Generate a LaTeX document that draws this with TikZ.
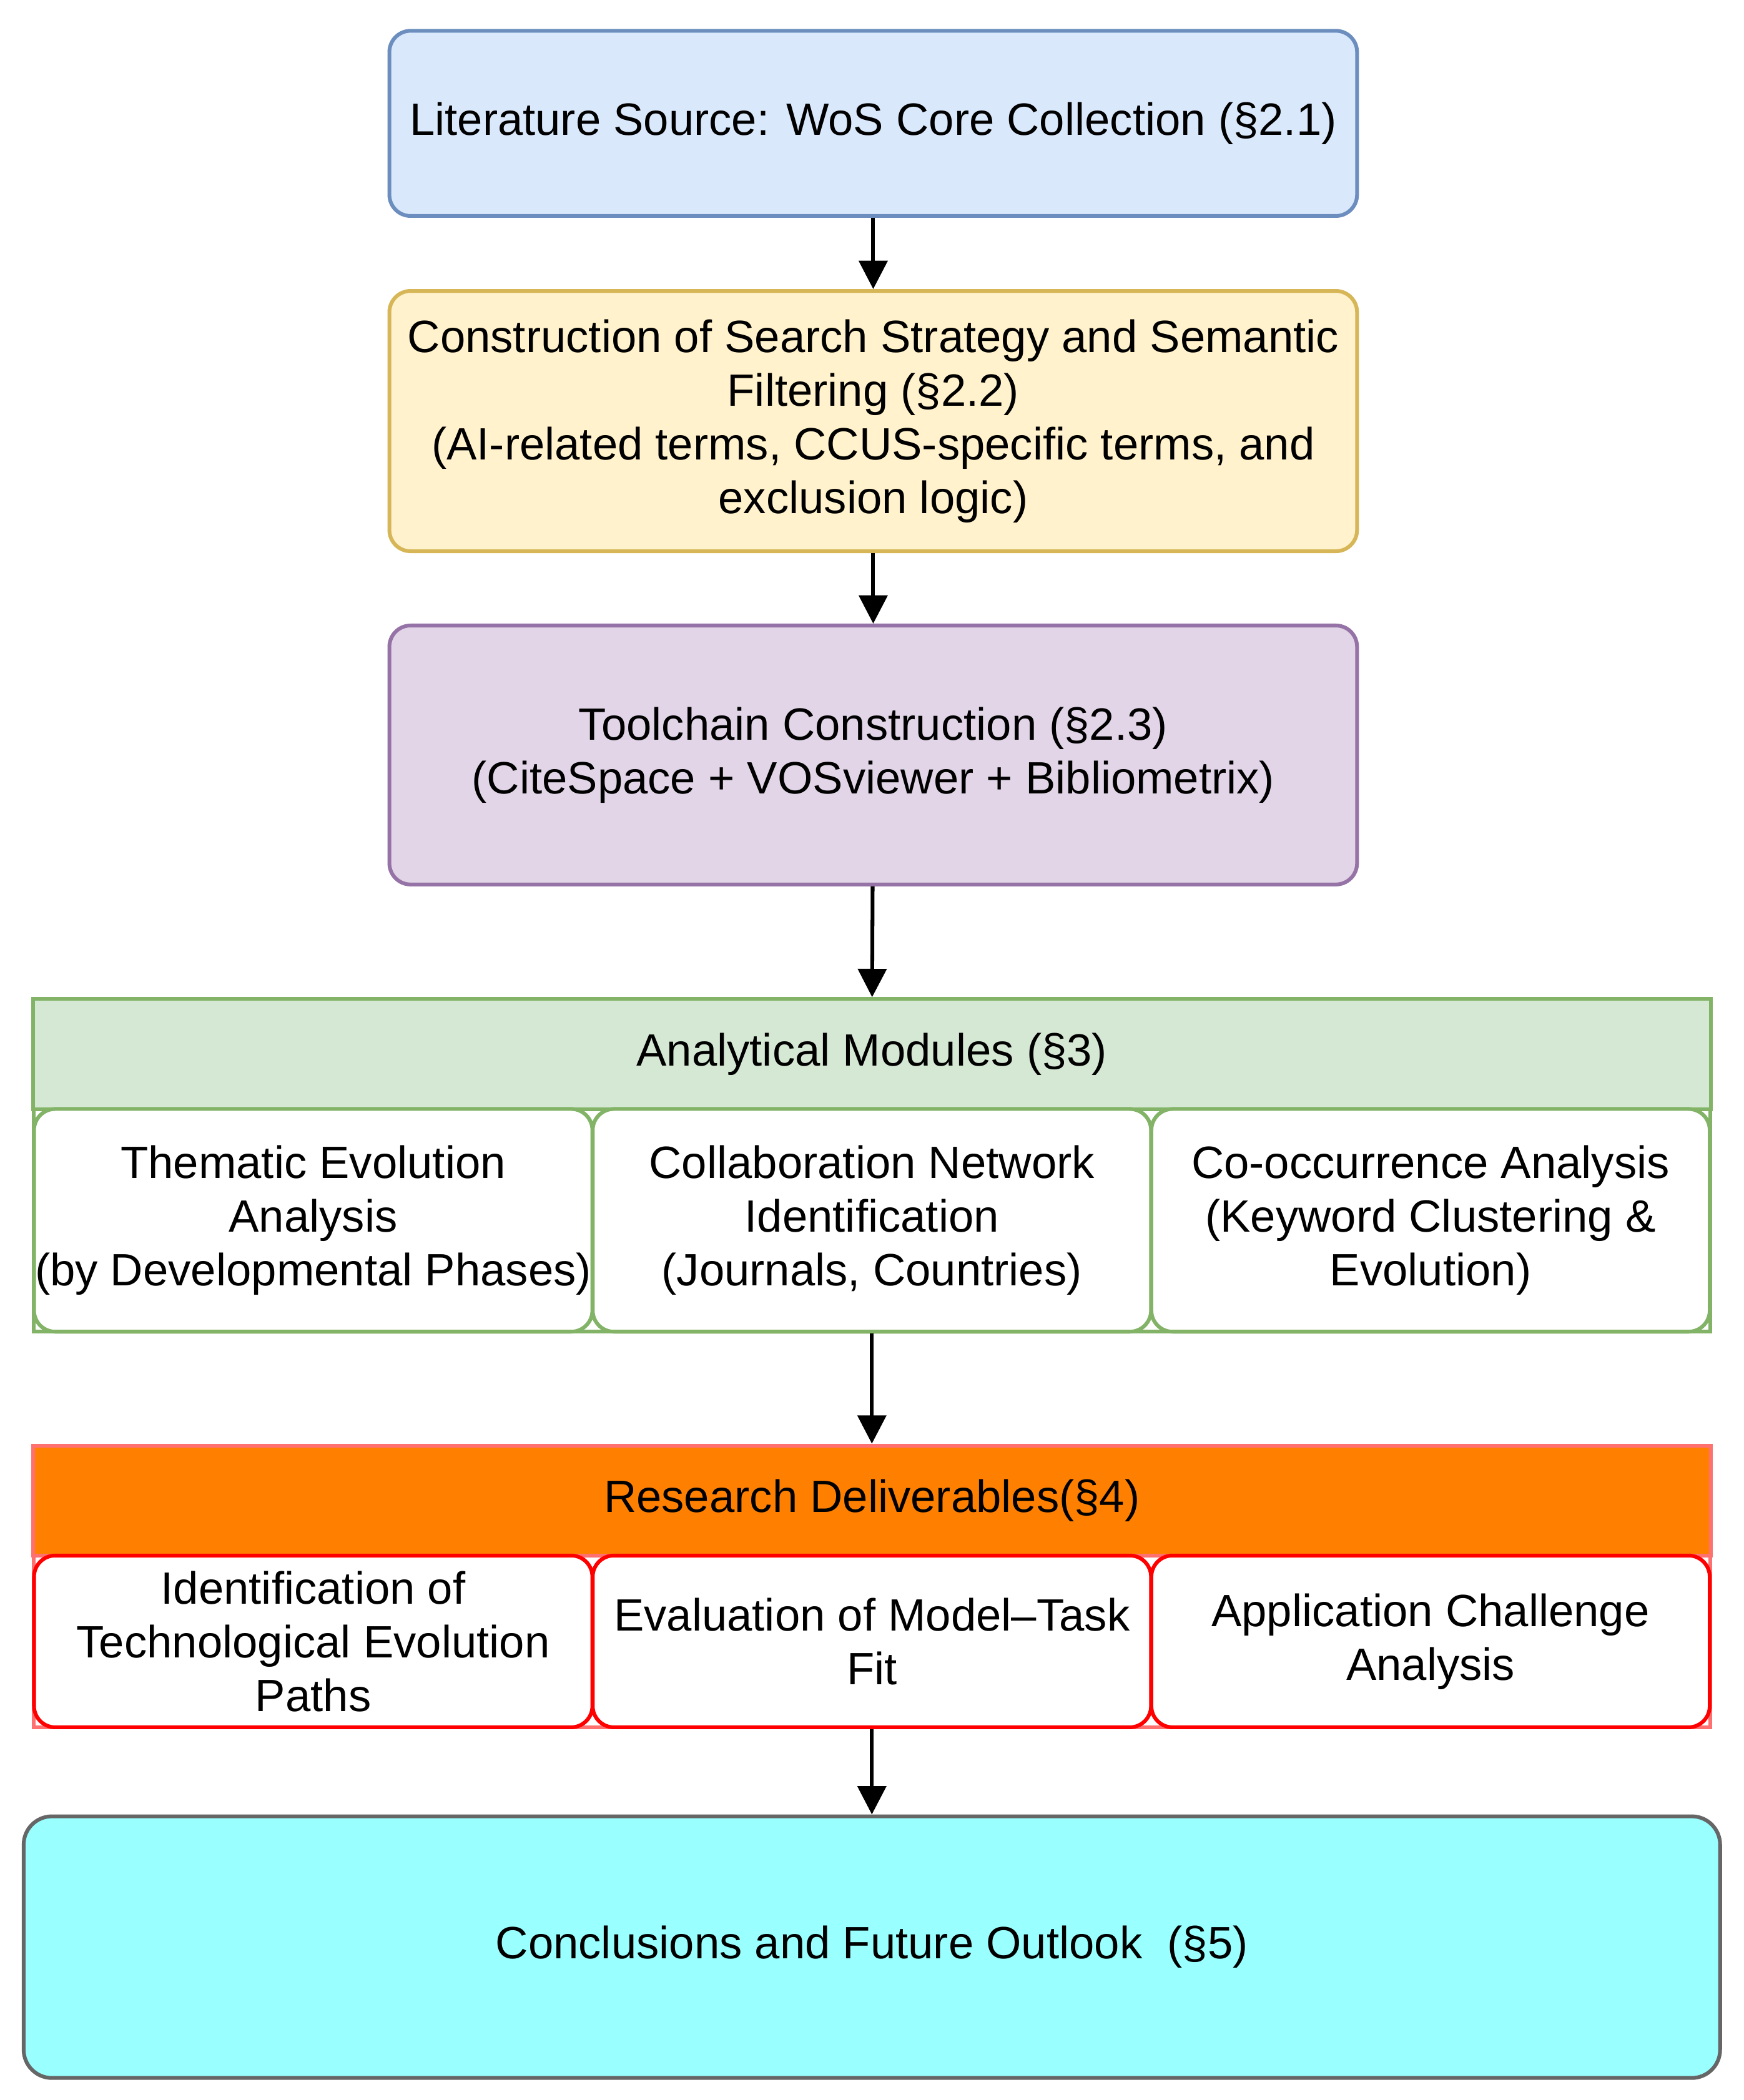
\documentclass[tikz,border=0pt]{standalone}
\usepackage{fontspec}
\setmainfont{Liberation Sans}
\usetikzlibrary{arrows.meta,positioning}
\definecolor{blueF}{HTML}{DAE8FC}\definecolor{blueD}{HTML}{6C8EBF}
\definecolor{yelF}{HTML}{FFF2CC}\definecolor{yelD}{HTML}{D6B656}
\definecolor{purF}{HTML}{E1D5E7}\definecolor{purD}{HTML}{9673A6}
\definecolor{grnF}{HTML}{D5E8D4}\definecolor{grnD}{HTML}{82B366}
\definecolor{orgF}{HTML}{FF8000}\definecolor{redD}{HTML}{FF3333}
\definecolor{cyaF}{HTML}{99FFFF}\definecolor{gryD}{HTML}{666666}
\tikzset{
  box/.style={draw,line width=0.8pt,rounded corners=4.5pt,align=center,inner sep=0pt},
  sub/.style={box,fill=white,minimum width=4.16cm,minimum height=1.66cm},
  flow/.style={-{Triangle[length=6pt,width=6pt]},line width=0.8pt}
}
\begin{document}
\begin{tikzpicture}[x=0.01cm,y=-0.01cm,font=\fontsize{9.6}{11.4}\selectfont]
  \useasboundingbox (0,0) rectangle (1300,1566);
  % top chain
  \node[box,fill=blueF,draw=blueD,minimum width=7.21cm,minimum height=1.38cm] (src) at (651,92) {Literature Source: WoS Core Collection (§2.1)};
  \node[box,fill=yelF,draw=yelD,minimum width=7.21cm,minimum height=1.94cm] (srch) at (651,314) {Construction of Search Strategy and Semantic\\Filtering (§2.2)\\(AI-related terms, CCUS-specific terms, and\\exclusion logic)};
  \node[box,fill=purF,draw=purD,minimum width=7.21cm,minimum height=1.93cm] (tool) at (651,563) {Toolchain Construction (§2.3)\\(CiteSpace + VOSviewer + Bibliometrix)};
  % analytical modules
  \draw[grnD,line width=0.8pt] (25,745) rectangle (1275,993);
  \node[draw=grnD,fill=grnF,line width=0.8pt,minimum width=12.5cm,minimum height=0.82cm,inner sep=0pt] (mod) at (650,786) {Analytical Modules (§3)};
  \node[sub,draw=grnD] (m1) at (233.5,910) {Thematic Evolution\\Analysis\\(by Developmental Phases)};
  \node[sub,draw=grnD] (m2) at (650,910) {Collaboration Network\\Identification\\(Journals, Countries)};
  \node[sub,draw=grnD] (m3) at (1066.5,910) {Co-occurrence Analysis\\(Keyword Clustering \&\\Evolution)};
  % deliverables
  \draw[redD!70,line width=0.8pt] (25,1078) rectangle (1275,1288);
  \node[draw=redD!70,fill=orgF,line width=0.8pt,minimum width=12.5cm,minimum height=0.82cm,inner sep=0pt] (dlv) at (650,1119) {Research Deliverables(§4)};
  \node[sub,draw=red,minimum height=1.28cm] (d1) at (233.5,1224) {Identification of\\Technological Evolution\\Paths};
  \node[sub,draw=red,minimum height=1.28cm] (d2) at (650,1224) {Evaluation of Model–Task\\Fit};
  \node[sub,draw=red,minimum height=1.28cm] (d3) at (1066.5,1224) {Application Challenge\\Analysis};
  % conclusion
  \node[box,fill=cyaF,draw=gryD,rounded corners=6pt,minimum width=12.64cm,minimum height=1.95cm] (conc) at (650,1452) {Conclusions and Future Outlook~~(§5)};
  % arrows
  \draw[flow] (src) -- (srch);
  \draw[flow] (srch) -- (tool);
  \draw[flow] (tool) -- (mod);
  \draw[flow] (m2) -- (dlv);
  \draw[flow] (d2) -- (conc);
\end{tikzpicture}
\end{document}
